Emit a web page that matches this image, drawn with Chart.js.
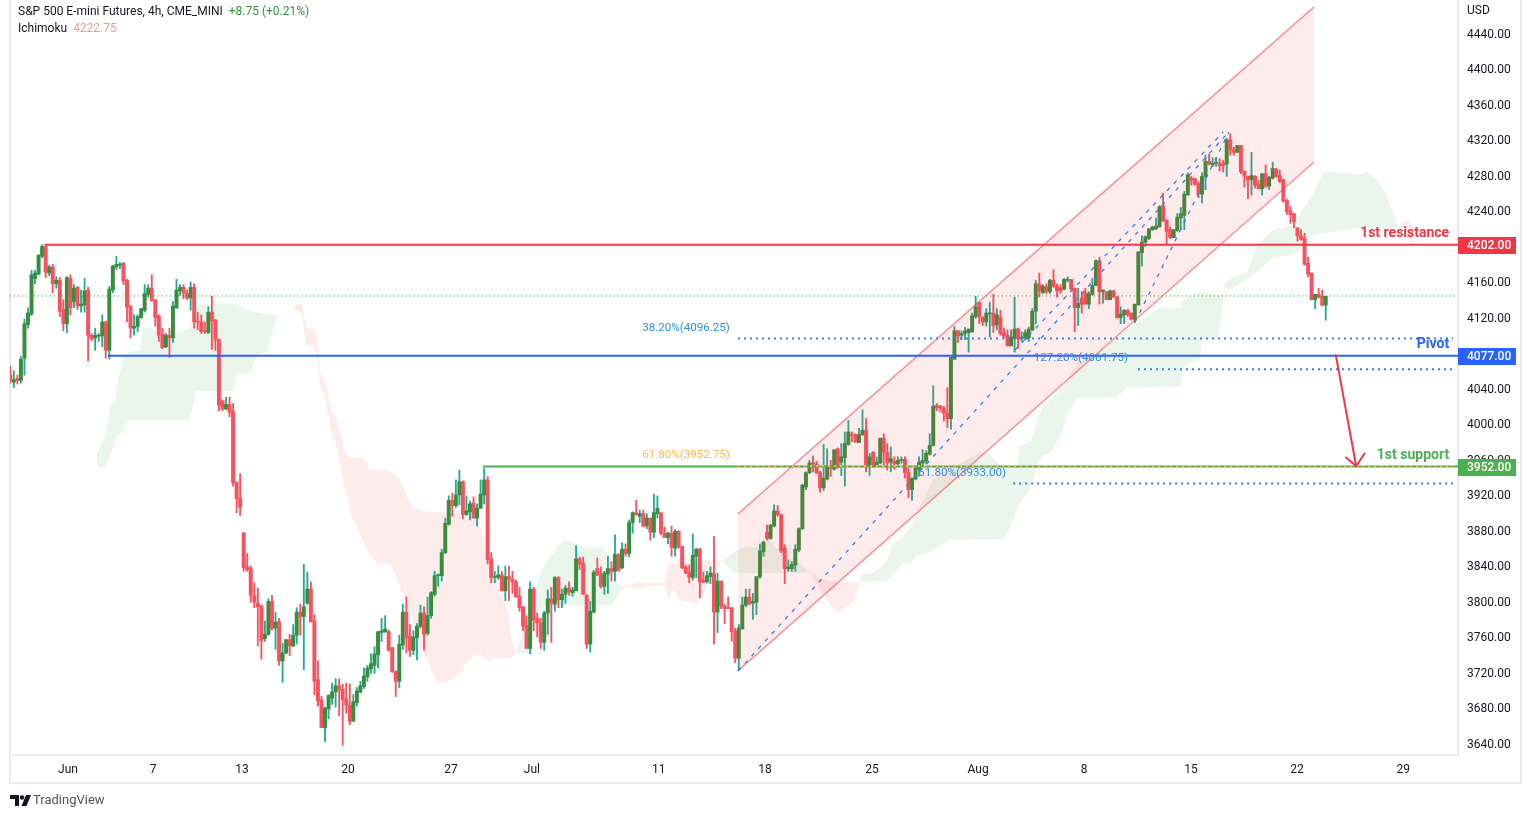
<!DOCTYPE html>
<html>
<head>
<meta charset="utf-8">
<title>S&amp;P 500 E-mini Futures</title>
<script src="https://cdn.jsdelivr.net/npm/chart.js@4/dist/chart.umd.min.js"></script>
<style>
  html, body { margin: 0; padding: 0; background: #fff; width: 1523px; height: 817px; overflow: hidden; }
  canvas { position: absolute; left: 0; top: 0; }
  .t { position: absolute; font: 12px Roboto, sans-serif; color: #131722; white-space: nowrap; line-height: 16px; }
</style>
</head>
<body>
<canvas id="chart" width="1523" height="817"></canvas>
<div class="t" style="left:18px;top:3px">S&amp;P 500 E-mini Futures, 4h, CME_MINI <span style="color:#388e3c;margin-left:3px">+8.75 (+0.21%)</span></div>
<div class="t" style="left:18px;top:20px">Ichimoku <span style="color:#ef9a9a;margin-left:3px">4222.75</span></div>
<div class="t" style="left:1467px;top:2px">USD</div>
<svg style="position:absolute;left:10px;top:795px" width="21" height="12" viewBox="0 0 21 12"><path d="M0 0h9v11H5V4H0z" fill="#131722"/><circle cx="12" cy="2.5" r="2.2" fill="#131722"/><path d="M16 0h5l-4.5 11h-5z" fill="#131722"/></svg>
<div class="t" style="left:33px;top:792px;font-size:13px;color:#50535e">TradingView</div>
<script>
const opens = [
  4055,4047,4051,4049,4074,4112,4124,4164,4169,4189,
  4200,4170,4177,4158,4162,4129,4113,4164,4138,4154,
  4133,4134,4151,4100,4097,4099,4099,4115,4083,4151,
  4177,4179,4181,4162,4133,4108,4110,4120,4128,4146,
  4153,4140,4122,4101,4087,4100,4097,4131,4150,4154,
  4147,4142,4154,4116,4115,4105,4103,4126,4117,4095,
  4026,4017,4022,4014,3934,3917,3877,3839,3837,3807,
  3798,3795,3758,3763,3800,3770,3777,3733,3742,3757,
  3750,3762,3788,3783,3798,3814,3778,3712,3689,3658,
  3679,3691,3698,3705,3701,3690,3683,3665,3686,3698,
  3704,3715,3724,3728,3740,3765,3766,3766,3748,3721,
  3710,3751,3788,3761,3745,3759,3772,3787,3764,3784,
  3808,3829,3829,3855,3887,3914,3908,3920,3935,3898,
  3901,3911,3894,3905,3920,3937,3848,3827,3827,3830,
  3812,3828,3825,3822,3806,3794,3773,3747,3814,3781,
  3776,3754,3787,3803,3797,3827,3802,3808,3815,3810,
  3812,3848,3843,3807,3752,3788,3837,3830,3817,3831,
  3837,3834,3853,3838,3859,3854,3889,3900,3896,3899,
  3885,3894,3878,3899,3900,3877,3872,3877,3860,3879,
  3862,3839,3833,3827,3851,3859,3824,3822,3828,3831,
  3788,3823,3795,3793,3793,3767,3736,3769,3796,3805,
  3798,3799,3828,3856,3878,3871,3885,3902,3898,3860,
  3837,3837,3841,3858,3882,3929,3945,3956,3955,3945,
  3928,3938,3953,3949,3972,3957,3962,3977,3988,3988,
  3979,3988,3993,3952,3968,3952,3956,3984,3968,3957,
  3958,3955,3959,3960,3946,3926,3938,3949,3956,3958,
  3966,3976,4021,4020,4018,4012,4006,4073,4105,4100,
  4102,4103,4104,4121,4137,4120,4115,4124,4125,4112,
  4120,4103,4100,4088,4096,4107,4096,4097,4097,4106,
  4127,4158,4148,4155,4149,4162,4155,4153,4152,4162,
  4163,4153,4131,4142,4148,4135,4146,4156,4184,4149,
  4149,4140,4150,4143,4120,4123,4128,4125,4118,4134,
  4193,4205,4209,4219,4220,4222,4246,4230,4219,4210,
  4218,4232,4235,4258,4277,4276,4271,4259,4279,4296,
  4292,4294,4294,4294,4293,4320,4309,4306,4314,4285,
  4279,4275,4279,4270,4265,4282,4268,4277,4287,4280,
  4275,4252,4240,4237,4221,4212,4209,4181,4170,4140,
  4146,4144,4134
];
const highs = [
  4065,4060,4055,4076,4118,4131,4173,4173,4191,4202,
  4202,4179,4180,4166,4165,4140,4166,4168,4157,4155,
  4151,4164,4154,4102,4108,4102,4123,4116,4155,4179,
  4189,4182,4182,4163,4133,4123,4123,4130,4157,4157,
  4168,4140,4123,4108,4102,4108,4138,4163,4157,4157,
  4151,4160,4158,4126,4123,4115,4132,4144,4118,4096,
  4027,4030,4030,4023,3935,3944,3878,3854,3840,3821,
  3815,3796,3778,3803,3807,3788,3781,3753,3757,3763,
  3774,3793,3797,3842,3833,3822,3785,3733,3693,3681,
  3695,3708,3713,3713,3707,3708,3707,3695,3703,3710,
  3725,3728,3741,3749,3766,3781,3784,3768,3748,3722,
  3762,3797,3805,3774,3767,3775,3796,3794,3805,3811,
  3834,3831,3859,3894,3919,3922,3937,3948,3936,3919,
  3913,3918,3910,3937,3950,3941,3855,3834,3840,3834,
  3840,3840,3834,3824,3816,3794,3784,3822,3816,3787,
  3781,3789,3813,3816,3828,3828,3814,3818,3822,3816,
  3863,3850,3850,3808,3800,3835,3849,3839,3834,3851,
  3845,3875,3854,3866,3865,3892,3901,3914,3903,3903,
  3899,3894,3921,3919,3900,3884,3878,3885,3881,3880,
  3862,3841,3841,3876,3860,3860,3833,3834,3839,3873,
  3832,3823,3797,3805,3793,3770,3774,3805,3814,3814,
  3809,3828,3865,3868,3886,3887,3909,3908,3898,3864,
  3847,3845,3864,3883,3932,3946,3959,3964,3958,3947,
  3977,3972,3959,3971,3973,3978,3991,4004,3991,3989,
  3995,4016,4006,3967,3969,3963,3984,3989,3978,3974,
  3963,3963,3963,3963,3950,3939,3953,3963,3971,3970,
  3989,4043,4023,4021,4020,4041,4075,4110,4105,4105,
  4109,4107,4125,4144,4137,4121,4130,4137,4146,4130,
  4128,4108,4106,4106,4143,4108,4104,4106,4109,4130,
  4162,4170,4157,4158,4163,4174,4158,4157,4164,4166,
  4163,4153,4153,4149,4153,4149,4164,4185,4188,4151,
  4149,4151,4151,4144,4132,4129,4129,4125,4135,4194,
  4212,4212,4220,4223,4232,4246,4260,4230,4222,4219,
  4237,4244,4262,4283,4279,4277,4273,4283,4303,4304,
  4300,4300,4299,4297,4322,4327,4312,4314,4314,4285,
  4279,4306,4280,4275,4282,4292,4279,4295,4288,4286,
  4276,4253,4245,4237,4221,4219,4215,4188,4170,4146,
  4153,4151,4144
];
const lows = [
  4046,4041,4045,4046,4055,4108,4122,4158,4168,4187,
  4165,4167,4148,4153,4121,4105,4103,4123,4131,4129,
  4126,4126,4071,4094,4083,4093,4087,4074,4073,4148,
  4174,4175,4157,4115,4097,4100,4104,4119,4126,4143,
  4138,4110,4093,4085,4086,4075,4092,4130,4145,4141,
  4140,4128,4108,4106,4102,4102,4102,4084,4083,4015,
  4015,4016,4008,3930,3900,3897,3834,3834,3799,3793,
  3750,3735,3755,3762,3768,3746,3728,3709,3741,3739,
  3749,3752,3762,3723,3797,3777,3695,3682,3658,3642,
  3668,3684,3681,3671,3638,3674,3661,3665,3682,3697,
  3702,3710,3719,3719,3725,3755,3765,3744,3720,3693,
  3703,3746,3742,3738,3740,3734,3770,3745,3762,3781,
  3806,3817,3823,3854,3886,3896,3906,3909,3893,3897,
  3892,3894,3885,3905,3910,3842,3821,3821,3825,3812,
  3801,3801,3809,3805,3789,3767,3747,3741,3767,3760,
  3747,3745,3763,3754,3789,3793,3793,3798,3807,3806,
  3812,3836,3808,3747,3743,3787,3829,3815,3808,3809,
  3823,3823,3834,3837,3851,3850,3877,3897,3889,3884,
  3882,3869,3872,3894,3875,3872,3865,3851,3851,3860,
  3837,3831,3821,3824,3827,3804,3821,3821,3820,3752,
  3765,3792,3775,3792,3755,3731,3722,3769,3794,3796,
  3780,3785,3826,3851,3869,3870,3884,3896,3855,3820,
  3834,3834,3834,3856,3881,3926,3944,3946,3944,3923,
  3925,3937,3941,3948,3950,3942,3930,3976,3980,3979,
  3979,3987,3946,3942,3951,3952,3955,3953,3948,3946,
  3949,3954,3956,3939,3917,3914,3937,3941,3952,3955,
  3965,3975,4015,4014,4003,3996,3994,4073,4092,4095,
  4095,4081,4103,4119,4113,4111,4110,4098,4103,4106,
  4100,4097,4088,4088,4081,4085,4093,4095,4093,4105,
  4113,4143,4147,4147,4147,4154,4143,4147,4151,4160,
  4151,4104,4111,4125,4135,4130,4145,4156,4135,4136,
  4140,4140,4142,4119,4113,4113,4121,4117,4114,4134,
  4178,4200,4208,4218,4219,4222,4228,4203,4209,4210,
  4217,4219,4219,4258,4269,4269,4255,4249,4264,4292,
  4290,4290,4285,4284,4279,4303,4303,4306,4282,4267,
  4254,4258,4266,4265,4258,4266,4264,4276,4278,4272,
  4250,4236,4226,4221,4206,4207,4179,4166,4140,4130,
  4142,4133,4117
];
const closes = [
  4049,4050,4049,4073,4113,4125,4168,4170,4190,4200,
  4171,4177,4158,4162,4127,4113,4165,4131,4153,4133,
  4135,4150,4100,4096,4100,4100,4115,4083,4152,4178,
  4180,4180,4161,4132,4108,4110,4121,4130,4147,4153,
  4139,4120,4100,4086,4100,4097,4133,4151,4154,4147,
  4142,4154,4115,4115,4104,4104,4126,4116,4095,4021,
  4017,4022,4013,3934,3916,3906,3838,3836,3807,3799,
  3794,3756,3763,3800,3770,3777,3733,3742,3757,3750,
  3762,3788,3783,3794,3814,3777,3710,3688,3658,3680,
  3694,3698,3705,3700,3689,3683,3665,3687,3699,3705,
  3716,3725,3730,3741,3766,3767,3769,3745,3721,3710,
  3752,3788,3759,3745,3760,3772,3787,3763,3784,3810,
  3829,3830,3855,3888,3914,3908,3920,3935,3898,3902,
  3910,3894,3905,3921,3937,3847,3827,3828,3830,3812,
  3828,3825,3822,3805,3793,3772,3747,3814,3779,3776,
  3754,3787,3803,3798,3827,3802,3808,3815,3811,3813,
  3848,3842,3808,3752,3789,3833,3830,3817,3832,3837,
  3834,3853,3835,3859,3854,3889,3900,3898,3899,3885,
  3894,3878,3900,3905,3877,3872,3877,3861,3879,3861,
  3838,3832,3827,3852,3859,3822,3822,3829,3832,3788,
  3823,3795,3792,3792,3766,3736,3770,3796,3805,3798,
  3800,3828,3857,3867,3871,3886,3902,3898,3857,3837,
  3839,3842,3859,3882,3931,3945,3956,3955,3945,3928,
  3939,3953,3950,3971,3951,3963,3978,3991,3987,3980,
  3988,3993,3953,3963,3952,3957,3984,3968,3956,3961,
  3955,3959,3960,3945,3926,3939,3950,3957,3959,3967,
  3976,4020,4018,4018,4012,4006,4075,4105,4099,4102,
  4105,4107,4122,4132,4121,4115,4125,4125,4111,4123,
  4102,4099,4088,4098,4107,4096,4098,4103,4107,4127,
  4158,4150,4155,4149,4162,4155,4150,4150,4163,4163,
  4152,4131,4136,4135,4135,4147,4156,4184,4149,4151,
  4140,4150,4143,4120,4124,4128,4123,4118,4135,4194,
  4205,4211,4220,4222,4223,4245,4229,4217,4210,4219,
  4233,4237,4259,4281,4275,4270,4259,4279,4296,4293,
  4294,4295,4291,4291,4320,4309,4306,4314,4284,4279,
  4275,4280,4269,4265,4282,4268,4278,4288,4279,4273,
  4251,4239,4236,4228,4212,4208,4180,4169,4140,4146,
  4143,4134,4144
];

const priceTicks = [3640,3680,3720,3760,3800,3840,3880,3920,3960,4000,4040,4080,4120,4160,4200,4240,4280,4320,4360,4400,4440];
const dateTicks = [16.3,40.4,65.5,95.5,124.6,147.5,183.4,213.4,243.7,273.7,303.7,333.9,363.9,393.9];
const dateLabels = ["Jun","7","13","20","27","Jul","11","18","25","Aug","8","15","22","29"];

// ichimoku cloud, one set of arrays per twist
const greenA_x = [24.5,26.8,28.2,29.6,30.2,31.9,32.4,33.3,36.7,37.5,38.9,41.5,45.2,50.8,52.5,53.6,61.3,63,64.1,67.8,69.8,72.6,74.3,75.7,78.2,79.9];
const greenA_top = [3967,3985,4018,4025,4046,4072,4078,4081,4083,4108,4109,4104,4100,4109,4128,4134,4136,4135,4134,4128,4126,4124,4123,4123,4125,4132];
const greenA_bot = [3951,3951,3962,3982,3988,3991,3995,4004,4004,4004,4004,4004,4004,4004,4037,4037,4037,4037,4057,4057,4078,4081,4106,4122,4125,4132];
const redA_x = [79.9,82.5,83.6,85.6,86.7,87.6,89.3,91,91.8,93.2,94.7,95.5,96.6,99.7,101.7,104,106,107.9,110.2,113.6,115.9,118.1,120.7,123.5,127.2,129.2,132.3,134.2,135.7,136.5,139.3,140.8,141.6,143];
const redA_top = [4132,4136,4108,4108,4098,4058,4043,4012,4010,3992,3968,3962,3962,3962,3949,3948,3948,3945,3937,3905,3904,3901,3901,3900,3900,3896,3892,3864,3847,3833,3802,3790,3759,3742];
const redA_bot = [4132,4123,4089,4089,4081,4044,4025,3985,3982,3957,3923,3917,3894,3869,3852,3842,3843,3841,3817,3781,3751,3732,3708,3709,3719,3732,3742,3736,3732,3736,3736,3736,3736,3742];
const greenB_x = [143,144.7,146.4,147.8,149.2,150.4,151.8,152.6,154.6,156,158.9,160.3,163.9,167.6,169,170.2,171.9,173.8];
const greenB_top = [3742,3762,3783,3805,3824,3835,3846,3850,3860,3868,3868,3862,3861,3861,3845,3826,3820,3817];
const greenB_bot = [3742,3742,3742,3762,3787,3793,3796,3796,3796,3796,3796,3796,3796,3796,3796,3796,3808,3817];
const redB_x = [173.8,177.2,180.9,184.3,185.2,186,187.4,189.4,194.5,195.6,198.7,201.3];
const redB_top = [3817,3821,3821,3821,3821,3842,3843,3843,3846,3846,3846,3846];
const redB_bot = [3817,3814,3817,3818,3816,3802,3813,3801,3798,3805,3830,3846];
const greenC_x = [201.3,204.9,208.3,211.2,214.8,218.5,223.3,226.2];
const greenC_top = [3846,3856,3862,3861,3869,3854,3843,3833];
const greenC_bot = [3846,3832,3832,3832,3832,3832,3832,3833];
const redC_x = [226.2,229,231.8,234.1,236.9,238.9,240];
const redC_top = [3833,3826,3823,3822,3822,3822,3822];
const redC_bot = [3833,3813,3796,3788,3795,3802,3822];
const greenD_x = [240.3,243.9,246.8,247.9,249.4,252.5,254.7,256.4,257.8,260.9,265.2,274.2,276.5,279,281.3,284.7,285.5,288.4,290.6,291.8,294,296.9,299.1,301.9,305.3,313,315.8,319.5,325.1,330.8,331.6,336.5,337,341.5,342.9,343.5,345.8,349.7,352.6,357.1,362.8,365.6,368.4,371.2,373.2,381.7,383.7,385.9,388.8,391,392.4];
const greenD_top = [3830,3832,3841,3847,3864,3873,3884,3900,3913,3937,3948,3968,3968,3957,3953,3953,3976,3979,4004,4019,4027,4038,4051,4070,4074,4097,4106,4117,4131,4131,4140,4149,4149,4145,4145,4159,4166,4170,4202,4219,4224,4241,4260,4283,4284,4281,4284,4278,4261,4239,4221];
const greenD_bot = [3822,3823,3823,3823,3829,3843,3843,3852,3852,3858,3869,3870,3870,3870,3870,3903,3911,3926,3956,3964,3966,3985,4012,4029,4030,4030,4041,4041,4042,4042,4063,4075,4095,4097,4136,4153,4153,4164,4171,4188,4190,4199,4213,4215,4216,4221,4221,4221,4221,4221,4221];
const redD_x = [392.4,393.8,395.2,396.7,396.9];
const redD_top = [4221,4228,4230,4221,4194];
const redD_bot = [4221,4219,4213,4202,4194];

// drawings on the chart: [bar, price]
const channelUpper = [[205.8,3898.6],[368.7,4469.9]];
const channelLower = [[205.8,3721.7],[368.7,4295.2]];
const waveOne = [[205.8,3721.7],[344.6,4329]];
const waveTwo = [[284.1,4083.4],[343,4329]];
const waveThree = [[318.1,4115],[344.6,4329]];
const resistance = [[9.7,4202],[409.4,4202]];
const pivot = [[27.6,4077],[409.4,4077]];
const support = [[133.7,3952],[409.4,3952]];
const lastPrice = [[-0.1,4144.25],[409.4,4144.25]];
const fib382 = [[205.8,4096.25],[408,4096.25]];
const fib1272 = [[318.9,4061.75],[408,4061.75]];
const fib618Top = [[205.8,3952.75],[408,3952.75]];
const fib618Low = [[283.6,3933],[408,3933]];
const arrowShaft = [[374.8,4078.5],[380.6,3952.7]];
const arrowHead = [[377.5,3962.8],[380.6,3952.7],[383.1,3967.3]];

const chartLabels = [
  { text: "38.20%(4096.25)", bar: 203.5, price: 4108, color: "#2f8de4", font: "11.6px Roboto" },
  { text: "127.20%(4061.75)", bar: 316.1, price: 4074.3, color: "#2f8de4", font: "11.6px Roboto" },
  { text: "61.80%(3952.75)", bar: 203.5, price: 3965, color: "#ffb74d", font: "11.6px Roboto" },
  { text: "61.80%(3933.00)", bar: 281.6, price: 3944.8, color: "#2f8de4", font: "11.6px Roboto" },
  { text: "1st resistance", bar: 406.9, price: 4214.6, color: "#f23645", font: "bold 14px Roboto" },
  { text: "Pivot", bar: 406.9, price: 4090.1, color: "#2962ff", font: "bold 14px Roboto" },
  { text: "1st support", bar: 406.9, price: 3965, color: "#4caf50", font: "bold 14px Roboto" }
];
const levelBadges = [
  { price: 4202, text: "4202.00", color: "#f23645" },
  { price: 4077, text: "4077.00", color: "#2962ff" },
  { price: 3952, text: "3952.00", color: "#4caf50" }
];

const upBody = "#388e3c", upWick = "#22ab94", downColour = "#f7525f";
const cloudGreen = "rgba(67, 160, 71, 0.11)", cloudRed = "rgba(244, 67, 54, 0.1)";

const datasets = [];

function points(list) {
  return list.map(p => ({ x: p[0], y: p[1] }));
}

function addCloud(xs, tops, bots, colour) {
  const line = { type: "line", pointRadius: 0, borderWidth: 0, tension: 0, order: 50 };
  datasets.push({ ...line, data: xs.map((x, i) => ({ x, y: bots[i] })), fill: false });
  datasets.push({ ...line, data: xs.map((x, i) => ({ x, y: tops[i] })), fill: "-1", backgroundColor: colour });
}

function addLine(list, colour, width, dash, order) {
  datasets.push({
    type: "line", data: points(list), borderColor: colour, borderWidth: width,
    borderDash: dash || [], pointRadius: 0, tension: 0, fill: false, order: order || 10
  });
}

addCloud(greenA_x, greenA_top, greenA_bot, cloudGreen);
addCloud(redA_x, redA_top, redA_bot, cloudRed);
addCloud(greenB_x, greenB_top, greenB_bot, cloudGreen);
addCloud(redB_x, redB_top, redB_bot, cloudRed);
addCloud(greenC_x, greenC_top, greenC_bot, cloudGreen);
addCloud(redC_x, redC_top, redC_bot, cloudRed);
addCloud(greenD_x, greenD_top, greenD_bot, cloudGreen);
addCloud(redD_x, redD_top, redD_bot, cloudRed);

// candles: thin bar for the wick, wider bar for the body
const wicks = [], bodies = [], wickColours = [], bodyColours = [];
for (let i = 0; i < closes.length; ++i) {
  const up = closes[i] >= opens[i];
  wicks.push({ x: i, y: [lows[i], highs[i]] });
  bodies.push({ x: i, y: [opens[i], closes[i]] });
  wickColours.push(up ? upWick : downColour);
  bodyColours.push(up ? upBody : downColour);
}
datasets.push({ type: "bar", data: wicks, backgroundColor: wickColours, barThickness: 1.2, grouped: false, order: 31 });
datasets.push({ type: "bar", data: bodies, backgroundColor: bodyColours, barThickness: 3.3, minBarLength: 1, grouped: false, order: 30 });

// channel
datasets.push({ type: "line", data: points(channelLower), borderColor: "rgba(242, 54, 69, 0.5)", borderWidth: 1.6, pointRadius: 0, fill: false, order: 20 });
datasets.push({ type: "line", data: points(channelUpper), borderColor: "rgba(242, 54, 69, 0.5)", borderWidth: 1.6, pointRadius: 0, fill: "-1", backgroundColor: "rgba(242, 54, 69, 0.1)", order: 20 });

addLine(lastPrice, "#388e3c", 1, [1, 3], 25);
addLine(waveOne, "#2f80ed", 1.3, [4, 6]);
addLine(waveTwo, "#2f80ed", 1.3, [4, 6]);
addLine(waveThree, "#2f80ed", 1.3, [4, 6]);
addLine(fib382, "#2f80ed", 2, [2, 4]);
addLine(fib1272, "#2f80ed", 2, [2, 4]);
addLine(fib618Low, "#2f80ed", 2, [2, 4]);
addLine(resistance, "#f23645", 2, null, 8);
addLine(pivot, "#2962ff", 2, null, 8);
addLine(support, "#4caf50", 2, null, 8);
addLine(fib618Top, "#ffb74d", 2, [2, 4], 5);
addLine(arrowShaft, "#f23645", 2, null, 4);
addLine(arrowHead, "#f23645", 2, null, 4);

const frameColour = "#e8eaef";

const overlay = {
  id: "overlay",
  beforeDraw(chart) {
    const ctx = chart.ctx;
    ctx.save();
    ctx.strokeStyle = frameColour;
    ctx.lineWidth = 2;
    ctx.beginPath();
    ctx.moveTo(10, 0);
    ctx.lineTo(10, 783);
    ctx.lineTo(1521, 783);
    ctx.lineTo(1521, 0);
    ctx.stroke();
    ctx.restore();
  },
  afterDraw(chart) {
    const ctx = chart.ctx, x = chart.scales.x, y = chart.scales.y;
    ctx.save();
    ctx.textBaseline = "middle";
    ctx.textAlign = "right";
    for (const l of chartLabels) {
      ctx.font = l.font;
      ctx.fillStyle = l.color;
      ctx.fillText(l.text, x.getPixelForValue(l.bar), y.getPixelForValue(l.price));
    }
    ctx.textAlign = "left";
    ctx.font = "500 12px Roboto";
    for (const b of levelBadges) {
      const py = y.getPixelForValue(b.price);
      ctx.fillStyle = b.color;
      ctx.fillRect(x.right, Math.round(py) - 8, 58, 17);
      ctx.fillStyle = "#ffffff";
      ctx.fillText(b.text, x.right + 9, py + 1);
    }
    ctx.restore();
  }
};

new Chart(document.getElementById("chart"), {
  type: "bar",
  data: { datasets },
  plugins: [overlay],
  options: {
    responsive: false,
    animation: false,
    events: [],
    layout: { autoPadding: false, padding: { left: 10, right: 0, top: 0, bottom: 0 } },
    plugins: { legend: { display: false }, tooltip: { enabled: false }, title: { display: false } },
    scales: {
      x: {
        type: "linear", offset: false, min: -0.085, max: 409.4,
        grid: { display: false, drawTicks: false },
        border: { color: frameColour, width: 2 },
        afterBuildTicks: s => { s.ticks = dateTicks.map(v => ({ value: v })); },
        afterFit: s => { s.height = 62; },
        ticks: {
          autoSkip: false, maxRotation: 0, padding: 8, color: "#131722",
          font: { family: "Roboto", size: 12 },
          callback: (v, i) => dateLabels[i]
        }
      },
      y: {
        type: "linear", position: "right", min: 3627, max: 4477.75,
        grid: { display: false, drawTicks: false },
        border: { color: frameColour, width: 2 },
        afterBuildTicks: s => { s.ticks = priceTicks.map(v => ({ value: v })); },
        afterFit: s => { s.width = 65; s.paddingTop = 0; s.paddingBottom = 0; },
        ticks: {
          autoSkip: false, padding: 9, labelOffset: 1.5, color: "#131722",
          font: { family: "Roboto", size: 12 },
          callback: v => Number(v).toFixed(2)
        }
      }
    }
  }
});
</script>
</body>
</html>
